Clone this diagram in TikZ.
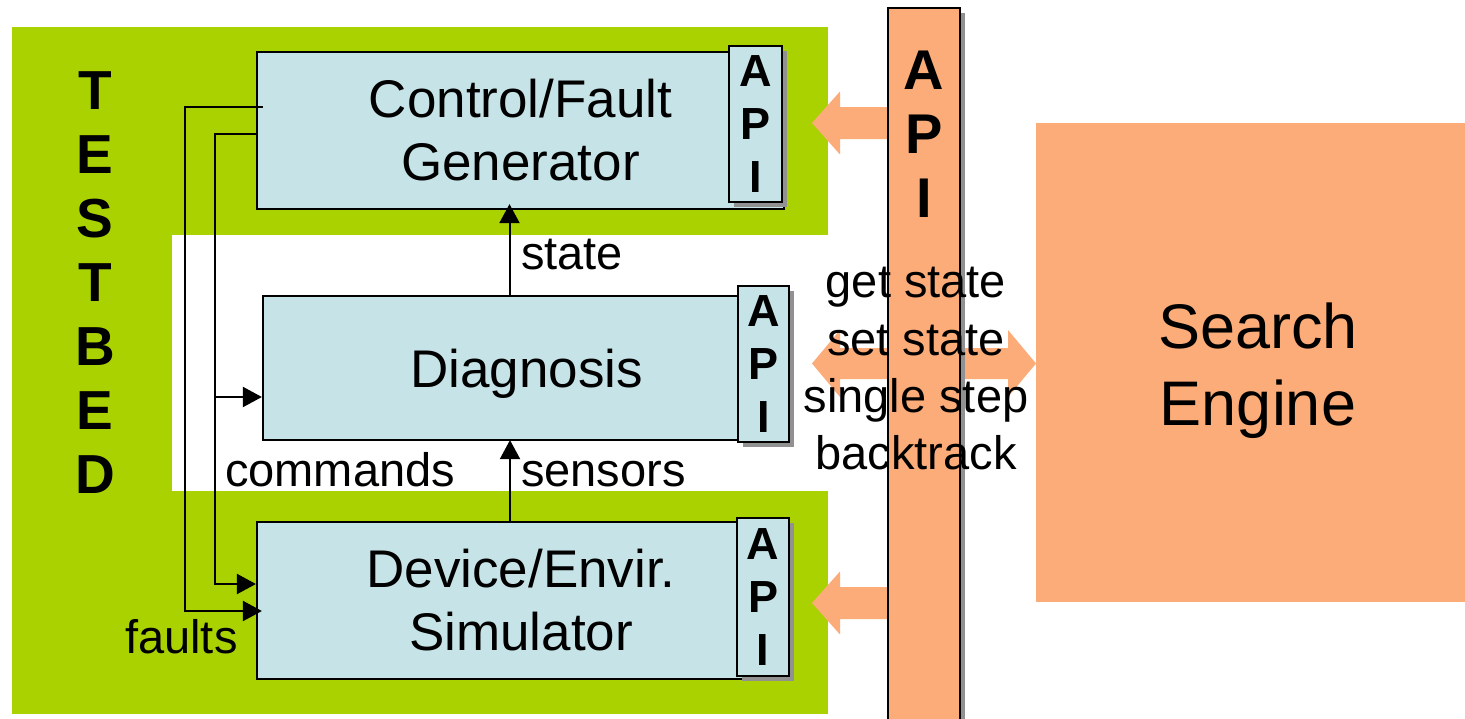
\documentclass[tikz,border=0pt]{standalone}
\usepackage{fontspec}
\setmainfont{Liberation Sans}
\usetikzlibrary{arrows.meta,calc,shadows}
\definecolor{bedgreen}{RGB}{170,210,0}
\definecolor{modblue}{RGB}{198,228,232}
\definecolor{enginesalmon}{RGB}{252,172,120}
\definecolor{shadowgray}{RGB}{145,145,145}

\begin{document}
\begin{tikzpicture}[x=1pt,y=-1pt,
  grayshadow/.style={drop shadow={shadow xshift=5pt,shadow yshift=-5pt,fill=shadowgray,opacity=1}},
  module/.style={draw=black,line width=2.2pt,fill=modblue,inner sep=0pt,align=center,
    font=\fontsize{53}{63}\selectfont},
  apibox/.style={draw=black,line width=2.2pt,fill=modblue,inner sep=0pt,align=center,
    grayshadow,font=\fontsize{45}{53}\selectfont\bfseries},
  apibar/.style={draw=black,line width=2.2pt,fill=enginesalmon,inner sep=0pt,grayshadow},
  fatarrow/.style={fill=enginesalmon},
  conn/.style={draw=black,line width=2pt},
  tip/.style={-{Triangle[length=19pt,width=20pt]}},
  lbl/.style={inner sep=0pt,font=\fontsize{47}{56}\selectfont},
]
\useasboundingbox (0,0) rectangle (1465,718);
\fill[white] (0,0) rectangle (1465,718);

% testbed background with the open middle band
\fill[bedgreen] (12,27) rectangle (828,714);
\fill[white] (172,235) rectangle (828,491);

\node[inner sep=0pt,align=center,font=\fontsize{55}{64}\selectfont\bfseries] (testbed)
  at (95,282.5) {T\\E\\S\\T\\B\\E\\D};

% broad arrows between the API bar and the modules / search engine
\coordinate (toptip) at (812,123);
\coordinate (bottip) at (812,603);
\coordinate (midtip) at (812,363.5);
\fill[fatarrow] (toptip) -- ++(28,-31.5) -- ++(0,15.5) -- ++(52,0) -- ++(0,32)
  -- ++(-52,0) -- ++(0,15.5) -- cycle;
\fill[fatarrow] (bottip) -- ++(28,-31.5) -- ++(0,15.5) -- ++(52,0) -- ++(0,32)
  -- ++(-52,0) -- ++(0,15.5) -- cycle;
\fill[fatarrow] (midtip) -- ++(28,-33.5) -- ++(0,18) -- ++(168,0) -- ++(0,-18)
  -- ++(28,33.5) -- ++(-28,33.5) -- ++(0,-18) -- ++(-168,0) -- ++(0,18) -- cycle;

% central API bar
\node[apibar,minimum width=72pt,minimum height=722pt] (bar) at (924,369) {};
\node[inner sep=0pt,align=center,font=\fontsize{56}{64}\selectfont\bfseries] (bartext)
  at (924,134) {A\\P\\I};

% search engine
\node[fill=enginesalmon,inner sep=0pt,minimum width=444pt,minimum height=479pt] (engine)
  at (1258,362.5) {};
\node[inner sep=0pt,align=center,font=\fontsize{63}{77}\selectfont] (enginetext)
  at (1258,370.5) {Search\\Engine};

% testbed modules
\node[module,minimum width=527pt,minimum height=157pt] (ctrl) at (520.5,130.5)
  {Control/Fault\\Generator};
\node[apibox,minimum width=53pt,minimum height=156pt] (ctrlapi) at (755.5,124) {A\\P\\I};

\node[module,text depth=0pt,minimum width=527pt,minimum height=144pt] (diag) at (526.5,368)
  {Diagnosis};
\node[apibox,minimum width=51pt,minimum height=156pt] (diagapi) at (763.5,364) {A\\P\\I};

\node[module,minimum width=528pt,minimum height=157pt] (dev) at (521,600.5)
  {Device/Envir.\\Simulator};
\node[apibox,minimum width=52pt,minimum height=158pt] (devapi) at (763,597) {A\\P\\I};

% signal connectors
\draw[conn,tip] ($(diag.north)+(-17,0)$) -- ($(ctrl.south)+(-11,-6)$);
\draw[conn,tip] ($(dev.north)+(-11,0)$) -- ($(diag.south)+(-16.5,-1)$);
\draw[conn,tip] ($(ctrl.west)+(7,-23.5)$) -| (185,611) -- ($(dev.west)+(6,10.5)$);
\draw[conn,tip] ($(ctrl.west)+(0,3.5)$) -| (215,584) -- ($(dev.west)+(0,-16.5)$);
\coordinate (cmdbranch) at (215,397);
\draw[conn,tip] (cmdbranch) -- ($(diag.west)+(0,29)$);

% connector labels
\node[lbl,anchor=base west] (statelbl) at (521,269) {state};
\node[lbl,anchor=base west] (sensorslbl) at (521,486) {sensors};
\node[lbl,anchor=base west] (commandslbl) at (225,486) {commands};
\node[lbl,anchor=base west] (faultslbl) at (125,653) {faults};

% search engine operations
\node[lbl,anchor=base] (op1) at (916,297) {get state};
\node[lbl,anchor=base] (op2) at (916,355) {set state};
\node[lbl,anchor=base] (op3) at (916,412) {single step};
\node[lbl,anchor=base] (op4) at (916,469) {backtrack};
\end{tikzpicture}
\end{document}
